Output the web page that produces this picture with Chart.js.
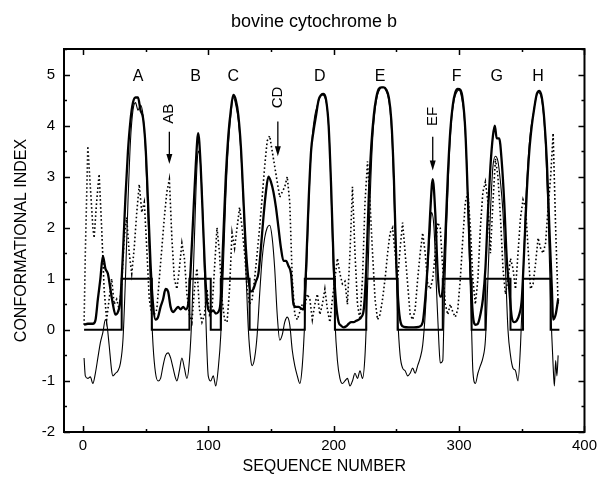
<!DOCTYPE html>
<html><head><meta charset="utf-8">
<script src="https://cdn.jsdelivr.net/npm/chart.js@4/dist/chart.umd.min.js"></script>
<style>html,body{margin:0;padding:0;background:#fff}#wrap{width:602px;height:481px}</style>
</head><body><div id="wrap"><canvas id="c" width="602" height="481"></canvas></div>
<script>
const titleText = 'bovine cytochrome b';
const xAxisTitle = 'SEQUENCE NUMBER';
const yAxisTitle = 'CONFORMATIONAL INDEX';
const xTicks = [0, 100, 200, 300, 400];
const yTicks = [-2, -1, 0, 1, 2, 3, 4, 5];

// Helix assignment (step function, value applies from this residue on)
const stepX = [1, 31, 55, 85, 102, 110, 133, 177, 201, 226, 251, 287, 310, 321, 341, 351, 373, 380];
const stepY = [0, 1, 0, 1, 0, 1, 0, 1, 0, 1, 0, 1, 0, 1, 0, 1, 0, 0];

// Heavy solid curve
const thickX = [1,4,8,10,12,14,16,18,20,22,24,26,28,30,32,34,36,38,40,42,44,46,48,50,52,54,56,58,60,62,64,66,68,70,72,74,76,78,80,82,84,86,88,90,92,94,96,98,100,102,104,106,108,110,112,114,116,118,120,122,124,126,128,130,132,134,136,138,140,142,144,146,148,150,152,154,156,158,160,162,164,166,168,170,172,174,176,178,180,182,184,186,188,190,192,194,196,198,200,202,204,206,208,210,212,214,216,218,220,222,224,226,228,230,232,234,236,238,240,242,244,246,248,250,252,254,256,260,264,268,271,273,275,277,279,281,283,285,287,289,291,293,295,297,299,301,303,305,307,309,311,313,315,317,319,321,323,325,327,328.5,330,332,334,336,338,340,342,344,346,348,350,352,354,356,358,360,362,364,366,368,370,372,374,375,377,379];
const thickY = [0.1,0.12,0.12,0.18,0.6,1.0,1.45,1.2,1.1,0.8,0.5,0.3,0.35,0.6,1.5,2.6,3.5,4.1,4.45,4.55,4.55,4.3,4.15,3.6,2.5,1.3,0.5,0.2,0.25,0.45,0.6,0.8,0.75,0.45,0.35,0.4,0.45,0.4,0.45,0.4,0.5,1.2,2.2,3.2,3.85,3.2,2.0,0.9,0.4,0.35,0.38,0.32,0.35,0.6,1.8,3.0,3.8,4.3,4.6,4.5,4.2,3.6,2.6,1.6,1.0,0.75,0.8,0.95,1.1,1.6,2.2,2.7,3.0,2.9,2.7,2.4,2.0,1.6,1.35,1.35,1.25,1.1,0.5,0.45,0.45,0.42,0.4,1.2,2.5,3.5,3.9,4.2,4.5,4.6,4.62,4.5,4.0,2.8,1.3,0.5,0.15,0.08,0.05,0.07,0.12,0.15,0.15,0.18,0.2,0.25,0.4,1.2,2.6,3.6,4.2,4.55,4.72,4.75,4.75,4.7,4.55,4.1,3.0,1.3,0.4,0.1,0.06,0.05,0.05,0.06,0.15,0.6,1.3,2.3,2.95,2.3,1.1,0.65,0.8,1.8,3.0,3.9,4.4,4.65,4.72,4.7,4.5,3.9,2.6,1.2,0.3,0.1,0.12,0.3,0.6,1.2,2.3,3.2,3.8,4.0,3.75,3.75,3.3,2.5,1.4,0.8,0.25,0.15,0.18,0.3,0.6,1.6,2.7,3.5,4.0,4.35,4.62,4.68,4.55,4.1,3.3,2.0,0.8,0.2,0.3,0.6];

// Thin solid curve
const thinX = [1,2,4,6,8,10,12,14,16,18,19,21,23,24,26,28,30,32,34,36,38,40,42,44,46,48,50,52,54,56,58,60,62,64,66,68,70,72,74,75,77,79,81,83,85,87,89,91,92,94,96,98,100,102,104,106,108,110,112,114,116,118,120,122,124,126,128,130,132,134,135,137,139,141,143,145,147,149,151,153,155,157,159,161,163,165,167,169,171,173,175,177,179,181,183,185,187,189,191,193,195,197,199,201,203,205,207,209,211,213,215,217,219,221,223,225,227,229,231,233,235,237,239,241,243,245,247,249,251,253,255,257,259,261,263,265,267,269,271,273,275,277,278,280,282,284,285,287,288,290,292,294,296,298,300,302,304,306,308,310,311,313,315,317,319,321,323,325,327,329,331,333,335,337,339,341,343,345,347,349,351,353,355,357,359,361,363,365,367,369,371,373,375,376,377,378,379];
const thinY = [-0.55,-0.9,-0.95,-0.92,-1.05,-0.85,-0.55,-0.25,-0.05,0.2,0.15,-0.3,-0.8,-0.9,-0.85,-0.8,-0.65,-0.2,1.0,2.5,3.7,4.3,4.45,4.3,4.4,4.2,3.5,2.2,0.8,-0.3,-0.85,-1.0,-0.95,-0.7,-0.5,-0.45,-0.55,-0.75,-0.95,-1.0,-0.8,-0.55,-0.75,-0.95,-0.6,0.3,1.8,3.2,3.5,3.2,2.0,0.3,-0.9,-1.0,-0.9,-1.1,-0.75,-0.1,1.2,2.6,3.6,4.2,4.55,4.4,4.1,3.5,2.5,1.2,0.0,-0.6,-0.7,-0.55,-0.1,0.7,1.4,1.8,2.0,2.05,1.8,1.2,0.3,-0.2,-0.1,0.15,0.25,0.1,-0.4,-0.7,-0.9,-1.05,-0.7,0.2,1.6,3.0,3.8,4.2,4.4,4.55,4.6,4.55,4.3,3.5,1.8,0.2,-0.6,-0.95,-1.05,-1.0,-0.95,-1.1,-1.0,-0.85,-0.95,-0.8,-0.95,-0.5,0.8,2.5,3.7,4.3,4.6,4.72,4.75,4.72,4.6,4.3,3.5,1.9,0.3,-0.5,-0.75,-0.8,-0.9,-0.85,-0.75,-0.85,-0.7,-0.55,-0.3,0.3,1.2,2.0,2.3,2.0,0.8,-0.3,-0.65,-0.6,0.3,2.0,3.3,4.1,4.5,4.65,4.7,4.55,4.2,3.3,1.6,0.0,-0.8,-1.05,-0.85,-0.7,-0.55,-0.2,1.0,2.3,3.2,3.4,3.3,2.9,2.3,1.2,0.0,-0.5,-0.75,-0.8,-1.0,-0.3,1.0,2.4,3.3,3.9,4.2,4.5,4.65,4.6,4.3,3.6,2.3,0.5,-0.7,-1.1,-0.6,-0.9,-0.5];

// Dotted curve
const dotX = [1,2,4,6,8,9,11,13,15,17,19,21,23,25,27,29,31,33,35,37,39,41,43,45,47,49,51,53,55,57,59,61,63,65,67,69,71,73,75,77,79,81,83,85,87,89,91,93,95,97,99,101,103,105,107,109,111,113,115,117,119,121,123,125,127,129,131,133,135,137,139,141,143,145,147,149,151,153,155,157,159,161,163,165,167,169,171,173,175,177,179,181,183,185,187,189,191,193,195,197,199,201,203,205,207,209,211,213,215,217,219,221,223,225,227,229,231,233,235,237,239,241,243,245,247,249,251,253,255,257,259,261,263,265,267,269,271,273,275,277,279,281,283,285,287,289,291,293,295,297,299,301,303,305,307,309,311,313,315,317,319,321,323,325,327,329,331,333,335,337,339,341,343,345,347,349,351,353,355,357,359,361,363,365,367,369,371,373,375,377,379];
const dotY = [0.1,1.5,3.6,2.8,2.0,1.8,2.5,3.05,2.0,0.8,0.2,0.6,1.0,0.5,0.6,0.4,0.9,1.8,2.2,1.5,1.1,1.6,2.3,2.85,2.3,2.5,1.6,0.6,0.3,0.3,0.4,1.0,1.6,2.2,2.7,2.95,1.8,1.0,0.8,1.2,1.7,1.4,0.7,0.3,0.15,0.8,1.2,0.4,0.15,0.3,0.8,0.3,0.4,1.2,2.0,1.5,0.6,0.2,0.15,0.8,1.9,1.6,2.0,2.4,2.0,1.5,0.8,0.5,0.6,1.0,1.5,2.0,2.6,3.2,3.7,3.8,3.5,3.2,2.9,2.6,2.7,2.8,3.0,2.5,1.0,0.3,0.2,0.35,0.5,0.45,0.7,0.6,0.2,0.5,0.7,0.3,0.5,0.8,0.4,0.15,0.6,1.0,1.4,1.1,0.9,0.95,0.5,1.5,2.8,1.5,0.5,0.2,1.0,2.5,3.3,2.5,1.5,0.6,0.2,0.3,0.6,1.0,1.5,1.9,2.0,1.5,1.0,1.6,2.1,1.5,0.9,0.3,0.2,0.4,1.0,1.5,1.9,1.5,0.9,0.8,1.0,1.5,2.1,2.0,1.2,0.5,0.3,0.5,0.35,0.25,0.4,1.0,1.8,2.5,2.7,2.0,1.0,0.5,1.0,2.0,2.7,2.9,2.5,1.5,2.5,3.35,3.0,2.2,1.2,0.7,1.0,1.4,1.2,0.8,1.5,2.2,2.55,2.4,1.6,0.8,0.9,1.3,1.8,1.6,1.5,1.7,2.4,3.0,3.85,2.0,0.5];

// Annotations
const helixLabels = ['A', 'B', 'C', 'D', 'E', 'F', 'G', 'H'];
const helixLabelX = [44, 90, 120, 189, 237, 298, 330, 363];
const helixLabelY = 4.95;
const loopLabels = ['AB', 'CD', 'EF'];
const loopX = [69, 155.5, 279];
const loopTextY = [4.23, 4.55, 4.18];
const arrowFromY = [3.88, 4.08, 3.78];
const arrowToY = [3.25, 3.4, 3.12];

const FONT = '"Liberation Sans", Arial, Helvetica, sans-serif';
const pts = (xs, ys) => xs.map((x, i) => ({ x: x, y: ys[i] }));

const decor = {
  id: 'decor',
  afterDatasetsDraw(chart) {
    const ctx = chart.ctx, a = chart.chartArea;
    const xs = chart.scales.x, ys = chart.scales.y;
    ctx.save();
    ctx.strokeStyle = '#000'; ctx.fillStyle = '#000';
    ctx.lineWidth = 2;
    ctx.strokeRect(a.left, a.top, a.right - a.left, a.bottom - a.top);
    ctx.lineWidth = 1.5;
    ctx.beginPath();
    for (let v = 0; v <= 400; v += 50) {
      const px = Math.round(xs.getPixelForValue(v)) + 0.5;
      const L = (v % 100 === 0) ? 6 : 3;
      ctx.moveTo(px, a.bottom); ctx.lineTo(px, a.bottom - L);
      ctx.moveTo(px, a.top); ctx.lineTo(px, a.top + L);
    }
    for (let v = -2; v <= 5.5; v += 0.5) {
      const py = Math.round(ys.getPixelForValue(v)) + 0.5;
      const L = (Number.isInteger(v)) ? 6 : 3;
      ctx.moveTo(a.left, py); ctx.lineTo(a.left + L, py);
      ctx.moveTo(a.right, py); ctx.lineTo(a.right - L, py);
    }
    ctx.stroke();
    ctx.font = '16px ' + FONT;
    ctx.textAlign = 'center'; ctx.textBaseline = 'middle';
    helixLabels.forEach((t, i) => {
      ctx.fillText(t, xs.getPixelForValue(helixLabelX[i]), ys.getPixelForValue(helixLabelY));
    });
    ctx.font = '15px ' + FONT;
    loopLabels.forEach((t, i) => {
      const px = xs.getPixelForValue(loopX[i]);
      ctx.save();
      ctx.translate(px, ys.getPixelForValue(loopTextY[i]));
      ctx.rotate(-Math.PI / 2);
      ctx.fillText(t, 0, 0);
      ctx.restore();
      const y0 = ys.getPixelForValue(arrowFromY[i]);
      const y1 = ys.getPixelForValue(arrowToY[i]);
      ctx.lineWidth = 1.3;
      ctx.beginPath(); ctx.moveTo(px, y0); ctx.lineTo(px, y1 - 6); ctx.stroke();
      ctx.beginPath(); ctx.moveTo(px, y1); ctx.lineTo(px - 3, y1 - 10); ctx.lineTo(px + 3, y1 - 10); ctx.closePath(); ctx.fill();
    });
    ctx.restore();
  },
  afterDraw(chart) {
    const ctx = chart.ctx, a = chart.chartArea;
    ctx.save();
    ctx.fillStyle = '#000';
    ctx.textAlign = 'center'; ctx.textBaseline = 'middle';
    ctx.font = '18px ' + FONT;
    ctx.fillText(titleText, 314, 22);
    ctx.font = '16px ' + FONT;
    ctx.fillText(xAxisTitle, (a.left + a.right) / 2, 467);
    ctx.save();
    ctx.translate(22, (a.top + a.bottom) / 2);
    ctx.rotate(-Math.PI / 2);
    ctx.fillText(yAxisTitle, 0, 0);
    ctx.restore();
    ctx.restore();
  }
};

new Chart(document.getElementById('c'), {
  type: 'line',
  data: {
    datasets: [
      { label: 'dotted', data: pts(dotX, dotY), borderColor: '#000', borderWidth: 1.6, borderDash: [1.6, 2.4], pointRadius: 0, tension: 0 },
      { label: 'thin', data: pts(thinX, thinY), borderColor: '#000', borderWidth: 1.1, pointRadius: 0, cubicInterpolationMode: 'monotone' },
      { label: 'step', data: pts(stepX, stepY), borderColor: '#000', borderWidth: 2, pointRadius: 0, stepped: true },
      { label: 'thick', data: pts(thickX, thickY), borderColor: '#000', borderWidth: 2.3, pointRadius: 0, cubicInterpolationMode: 'monotone' }
    ]
  },
  options: {
    responsive: false, animation: false, devicePixelRatio: 1,
    layout: { padding: { top: 49, right: 14, left: 0, bottom: 0 } },
    plugins: { legend: { display: false }, title: { display: false }, tooltip: { enabled: false } },
    scales: {
      x: {
        type: 'linear', min: -15, max: 400,
        afterBuildTicks: s => { s.ticks = xTicks.map(v => ({ value: v })); },
        afterFit: s => { s.height = 49; },
        grid: { display: false, drawTicks: false }, border: { display: false },
        ticks: { color: '#000', font: { family: FONT, size: 15 }, padding: 5, maxRotation: 0, autoSkip: false }
      },
      y: {
        type: 'linear', min: -2, max: 5.5,
        afterBuildTicks: s => { s.ticks = yTicks.map(v => ({ value: v })); },
        afterFit: s => { s.width = 64; },
        grid: { display: false, drawTicks: false }, border: { display: false },
        ticks: { color: '#000', font: { family: FONT, size: 15 }, padding: 9, autoSkip: false }
      }
    }
  },
  plugins: [decor]
});
</script>
</body></html>
